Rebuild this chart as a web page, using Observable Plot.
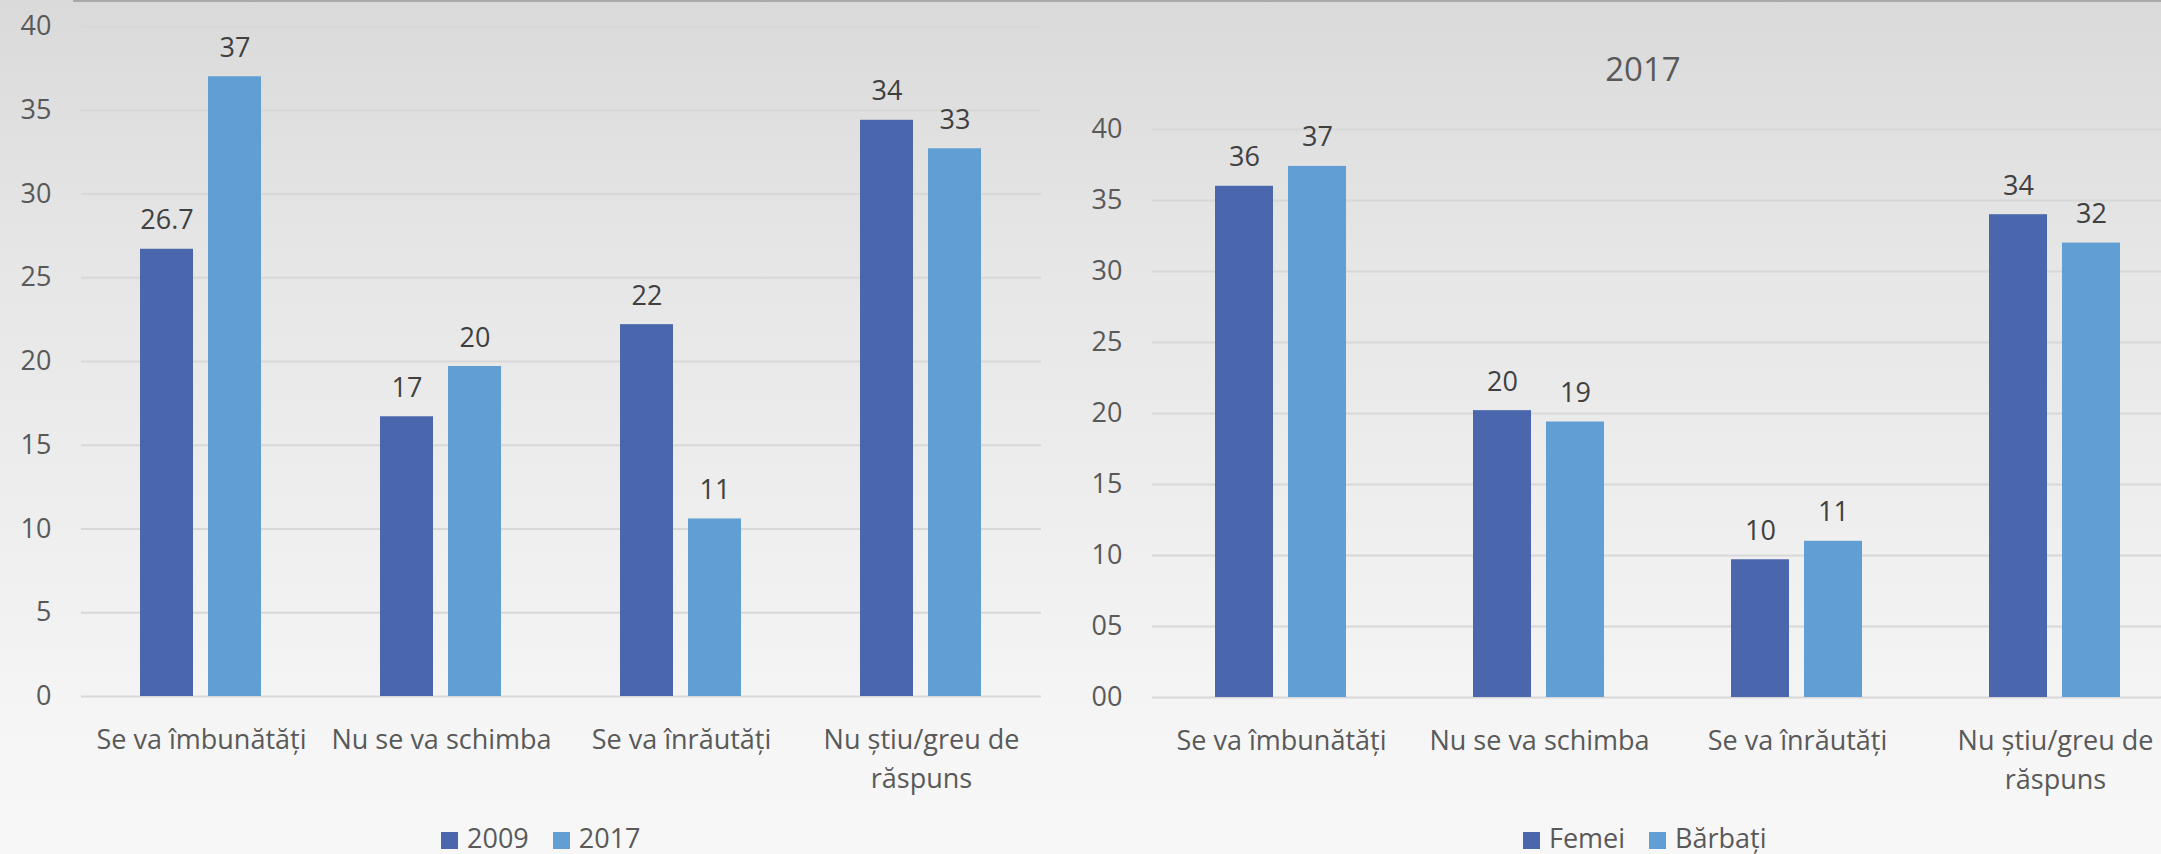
<!DOCTYPE html>
<html>
<head>
<meta charset="utf-8">
<script src="https://cdn.jsdelivr.net/npm/d3@7"></script>
<script src="https://cdn.jsdelivr.net/npm/@observablehq/plot@0.6"></script>
<style>
  html, body { margin: 0; padding: 0; width: 2161px; height: 854px; overflow: hidden; }
  body {
    position: relative;
    font-family: "Open Sans", sans-serif;
    background: linear-gradient(to bottom, #dadada 0%, #e6e6e6 30%, #eeeeee 60%, #f6f6f6 88%, #f7f7f7 100%);
  }
  .topline { position: absolute; left: 73px; top: 0; width: 2100px; height: 2px; background: #a9a9a9; }
  .chart { position: absolute; top: 0; }
  .chart svg { max-width: none !important; }
  .title { position: absolute; font-size: 33px; line-height: 33px; color: #595959; text-align: center; width: 200px; }
  .legend { position: absolute; font-size: 27px; line-height: 27px; color: #595959; white-space: nowrap; }
  .legend .sw { display: inline-block; width: 17px; height: 17px; margin-right: 9px; vertical-align: -1px; }
  .legend .it { margin-right: 24px; }
</style>
</head>
<body>
<div class="topline"></div>
<div id="left" class="chart" style="left:0px; width:1050px"></div>
<div id="right" class="chart" style="left:1060px; width:1132px"></div>
<div class="title" style="left:1543px; top:52px">2017</div>
<div id="legL" class="legend" style="left:441px; top:824px"></div>
<div id="legR" class="legend" style="left:1523px; top:824px"></div>
<script>
// ---- data ----
const categories = ["Se va îmbunătăți", "Nu se va schimba", "Se va înrăutăți", "Nu știu/greu de răspuns"];
const categoryTickLabels = ["Se va îmbunătăți", "Nu se va schimba", "Se va înrăutăți", "Nu știu/greu de\nrăspuns"];

const yearSeries = ["2009", "2017"];
const values2009 = [26.7, 16.7, 22.2, 34.4];
const values2017 = [37.0, 19.7, 10.6, 32.7];
const labels2009 = ["26.7", "17", "22", "34"];
const labels2017 = ["37", "20", "11", "33"];

const genderTitle = "2017";
const genderSeries = ["Femei", "Bărbați"];
const valuesFemei = [36.0, 20.2, 9.7, 34.0];
const valuesBarbati = [37.4, 19.4, 11.0, 32.0];
const labelsFemei = ["36", "20", "10", "34"];
const labelsBarbati = ["37", "19", "11", "32"];

const yTicks = [0, 5, 10, 15, 20, 25, 30, 35, 40];
const seriesColors = ["#4a66ad", "#609ed3"];

function makeChart({series, values, labels, width, height, marginLeft, marginRight, marginTop, marginBottom, paddingInner, paddingOuter, yFormat}) {
  const data = [];
  categories.forEach((c, i) => {
    series.forEach((s, j) => {
      data.push({cat: c, series: s, value: values[j][i], label: labels[j][i]});
    });
  });
  return Plot.plot({
    width, height, marginLeft, marginRight, marginTop, marginBottom,
    style: {fontFamily: "'Open Sans', sans-serif", fontSize: "27px", color: "#595959", background: "transparent", overflow: "visible", maxWidth: "none"},
    fx: {domain: categories, padding: 0, label: null},
    x: {domain: series, paddingInner, paddingOuter, axis: null},
    y: {domain: [0, 40], label: null},
    color: {domain: series, range: seriesColors},
    marks: [
      Plot.gridY(yTicks, {stroke: "#d8d8d8", strokeOpacity: 1, strokeWidth: 2}),
      Plot.barY(data, {fx: "cat", x: "series", y: "value", fill: "series"}),
      Plot.text(data, {fx: "cat", x: "series", y: "value", text: "label", dy: -20, lineAnchor: "bottom", fill: "#404040", fontSize: 27}),
      Plot.axisY(yTicks, {tickSize: 0, tickPadding: 30, tickFormat: yFormat, label: null, fill: "#595959"}),
      Plot.axisFx({anchor: "bottom", tickSize: 0, tickPadding: 25, lineHeight: 1.43, label: null, fill: "#595959",
        tickFormat: d => categoryTickLabels[categories.indexOf(d)]})
    ]
  });
}

document.getElementById("left").append(makeChart({
  series: yearSeries, values: [values2009, values2017], labels: [labels2009, labels2017],
  width: 1050, height: 800, marginLeft: 80, marginRight: 8, marginTop: 26, marginBottom: 104,
  paddingInner: 0.22, paddingOuter: 0.865, yFormat: d => String(d)
}));

document.getElementById("right").append(makeChart({
  series: genderSeries, values: [valuesFemei, valuesBarbati], labels: [labelsFemei, labelsBarbati],
  width: 1132, height: 800, marginLeft: 91, marginRight: 8, marginTop: 129, marginBottom: 103,
  paddingInner: 0.204, paddingOuter: 0.859, yFormat: d3.format("02d")
}));

document.querySelector(".title").textContent = genderTitle;

function legend(el, series) {
  el.innerHTML = series.map((s, i) =>
    `<span class="it"><span class="sw" style="background:${seriesColors[i]}"></span>${s}</span>`).join("");
}
legend(document.getElementById("legL"), yearSeries);
legend(document.getElementById("legR"), genderSeries);
</script>
</body>
</html>
